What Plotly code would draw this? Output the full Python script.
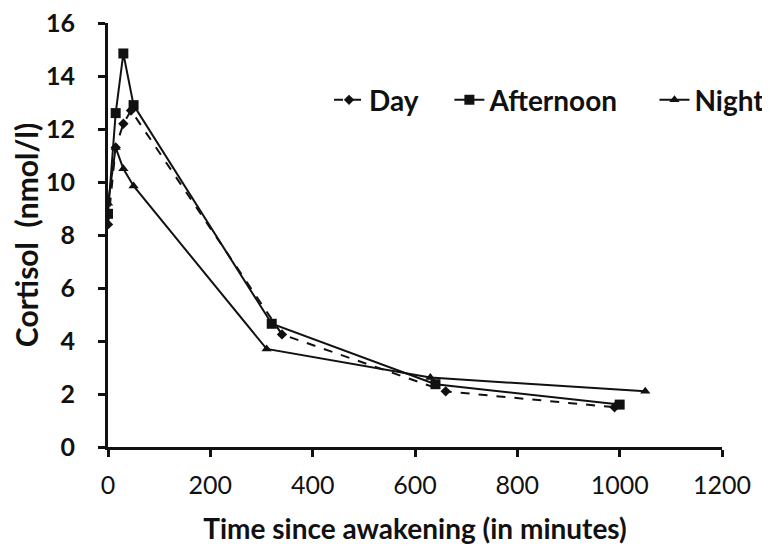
import plotly.graph_objects as go

day_x = [0, 15, 30, 45, 340, 660, 990]
day_y = [8.4, 11.3, 12.2, 12.7, 4.25, 2.1, 1.5]

aft_x = [0, 15, 30, 50, 320, 640, 1000]
aft_y = [8.8, 12.6, 14.85, 12.9, 4.65, 2.37, 1.6]

night_x = [0, 15, 30, 50, 310, 630, 1050]
night_y = [9.2, 11.3, 10.5, 9.85, 3.7, 2.62, 2.1]

x_ticks = [0, 200, 400, 600, 800, 1000, 1200]
y_ticks = [0, 2, 4, 6, 8, 10, 12, 14, 16]

FONT = "Lato"
C = "#111111"

fig = go.Figure()
fig.add_trace(go.Scatter(x=day_x, y=day_y, name="Day", mode="lines+markers",
                         line=dict(color=C, width=2, dash="dash"),
                         marker=dict(symbol="diamond", size=8, color=C), legend="legend"))
fig.add_trace(go.Scatter(x=aft_x, y=aft_y, name="Afternoon", mode="lines+markers",
                         line=dict(color=C, width=2),
                         marker=dict(symbol="square", size=10, color=C), legend="legend2"))
fig.add_trace(go.Scatter(x=night_x, y=night_y, name="Night", mode="lines+markers",
                         line=dict(color=C, width=2),
                         marker=dict(symbol="triangle-up", size=9, color=C), legend="legend3"))

legfont = dict(size=28, family=FONT, weight=700, color=C)
def leg(xp):
    return dict(orientation="h", x=xp, y=0.818, xanchor="left", yanchor="middle",
                font=legfont, bgcolor="rgba(0,0,0,0)", borderwidth=0, visible=True)

fig.update_layout(
    width=762, height=543,
    showlegend=True,
    margin=dict(l=100, r=48, t=15, b=104, autoexpand=False),
    paper_bgcolor="white", plot_bgcolor="white",
    font=dict(family=FONT, color=C),
    legend=leg(0.360), legend2=leg(0.556), legend3=leg(0.890),
    xaxis=dict(range=[0, 1200], tickvals=x_ticks, ticktext=[str(v) for v in x_ticks],
               automargin=False, ticklabeloverflow="allow",
               showgrid=False, zeroline=False, showline=True, linecolor=C, linewidth=2.5,
               ticks="outside", ticklen=7, tickwidth=2.5, tickcolor=C,
               ticklabelstandoff=7,
               tickfont=dict(size=25, family=FONT, color=C),
               title=dict(text="Time since awakening (in minutes)",
                          font=dict(size=28, family=FONT, weight=700, color=C), standoff=22)),
    yaxis=dict(range=[0, 16], tickvals=y_ticks, ticktext=[str(v) + "   " for v in y_ticks],
               automargin=False, ticklabeloverflow="allow",
               showgrid=False, zeroline=False, showline=True, linecolor=C, linewidth=2.5,
               ticks="outside", ticklen=7, tickwidth=2.5, tickcolor=C,
               tickfont=dict(size=25, family=FONT, weight=700, color=C),
               title=dict(text="Cortisol  (nmol/l)",
                          font=dict(size=30, family=FONT, weight=700, color=C), standoff=5)),
)

fig.write_html("out.html")
